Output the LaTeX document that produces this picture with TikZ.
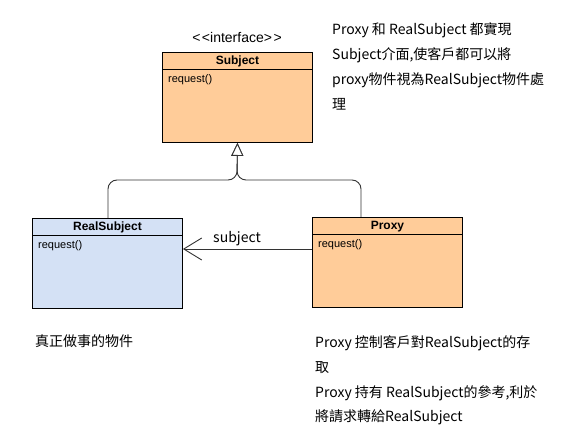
\documentclass[tikz,border=0pt]{standalone}
\usepackage{fontspec}
\setmainfont{Noto Sans CJK TC}
\newfontfamily\umlfont{Liberation Sans}
\usetikzlibrary{arrows.meta}
\definecolor{peach}{RGB}{255,204,153}
\definecolor{paleblue}{RGB}{212,225,245}
\definecolor{linegray}{RGB}{51,51,51}
\tikzset{
  classbox/.style={draw=black, line width=0.9pt, minimum width=150pt, minimum height=90pt, anchor=north west, inner sep=0pt},
  classname/.style={font=\umlfont\bfseries\fontsize{12}{14}\selectfont, anchor=base, inner sep=0pt},
  member/.style={font=\umlfont\fontsize{11}{13}\selectfont, anchor=base west, inner sep=0pt},
  note/.style={font=\fontsize{14}{16}\selectfont, anchor=base west, inner sep=0pt},
  conn/.style={draw=linegray, line width=0.9pt},
}
\begin{document}
\begin{tikzpicture}[x=1pt,y=-1pt]
\useasboundingbox (0,0) rectangle (578,435);
% Subject
\node[classbox, fill=peach] (subj) at (162,52) {};
\draw[line width=0.9pt] ([yshift=-17pt]subj.north west) -- ([yshift=-17pt]subj.north east);
\node[classname] (subjname) at ([yshift=-13pt]subj.north) {Subject};
\node[member] (subjop) at ([xshift=6pt,yshift=-31pt]subj.north west) {request()};
\node[note, anchor=base] (iface) at (237,43) {\umlfont\fontsize{14}{16}\selectfont<\kern1.5pt<interface>\kern1.5pt>};
% RealSubject
\node[classbox, fill=paleblue] (real) at (32,218) {};
\draw[line width=0.9pt] ([yshift=-17pt]real.north west) -- ([yshift=-17pt]real.north east);
\node[classname] (realname) at ([yshift=-13pt]real.north) {RealSubject};
\node[member] (realop) at ([xshift=6pt,yshift=-31pt]real.north west) {request()};
% Proxy
\node[classbox, fill=peach] (proxy) at (312,217) {};
\draw[line width=0.9pt] ([yshift=-17pt]proxy.north west) -- ([yshift=-17pt]proxy.north east);
\node[classname] (proxyname) at ([yshift=-13pt]proxy.north) {Proxy};
\node[member] (proxyop) at ([xshift=6pt,yshift=-31pt]proxy.north west) {request()};
% generalization
\coordinate (jn) at (237,180);
\draw[conn, rounded corners=9pt, -{Triangle[open, length=13pt, width=12pt, fill=white]}]
  (real.north -| 108,0) |- (jn) -- (subj.south);
\draw[conn, rounded corners=9pt, -{Triangle[open, length=13pt, width=12pt, fill=white]}]
  (proxy.north -| 361,0) |- (jn) -- (subj.south);
% association
\draw[conn, -{Straight Barb[length=18pt, width=22pt, line width=0.9pt]}]
  (proxy.west |- 0,249) -- (real.east |- 0,249);
\node[note, anchor=base west] (assoc) at (213,243) {subject};
% notes
\node[note] (n1) at (332,35) {Proxy 和 RealSubject 都實現};
\node[note] (n2) at (332,60) {Subject介面,使客戶都可以將};
\node[note] (n3) at (332,85) {proxy物件視為RealSubject物件處};
\node[note] (n4) at (332,110) {理};
\node[note] (n5) at (35,347) {真正做事的物件};
\node[note] (n6) at (315,348) {Proxy 控制客戶對RealSubject的存};
\node[note] (n7) at (315,372) {取};
\node[note] (n8) at (315,397) {Proxy 持有 RealSubject的參考,利於};
\node[note] (n9) at (315,421) {將請求轉給RealSubject};
\end{tikzpicture}
\end{document}
